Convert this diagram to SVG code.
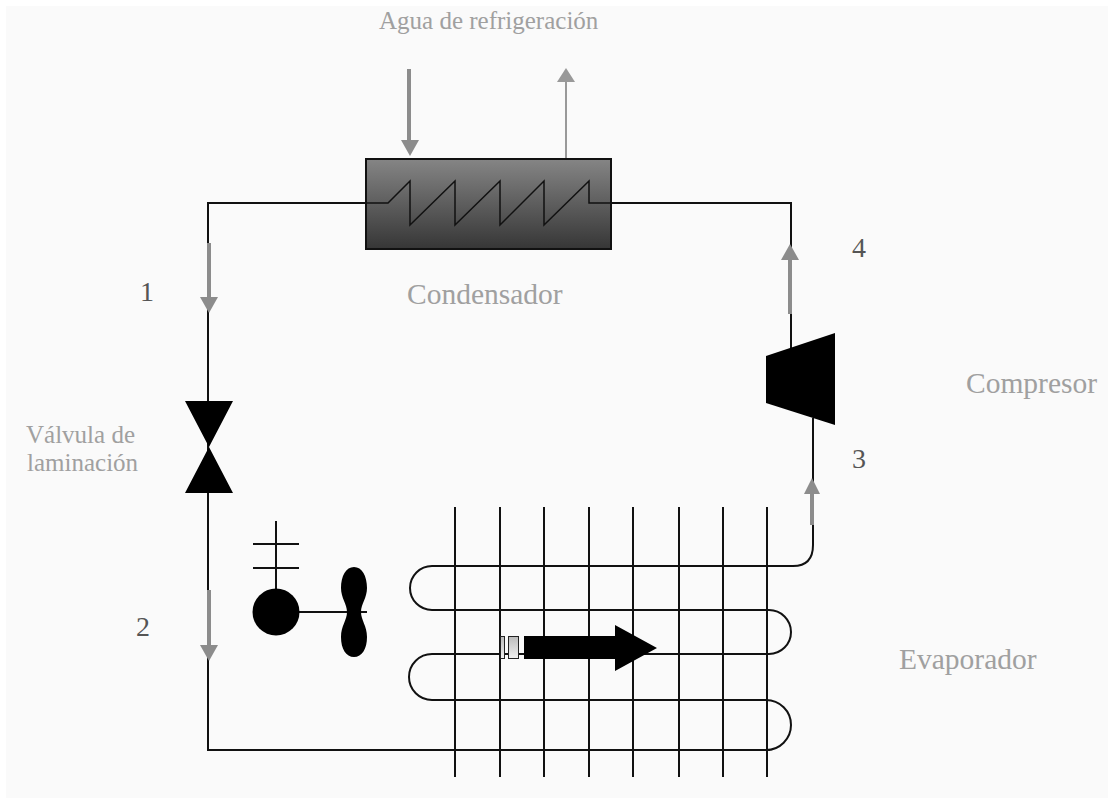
<svg xmlns="http://www.w3.org/2000/svg" width="1114" height="804" viewBox="0 0 1114 804">
<defs>
<linearGradient id="cond" x1="0" y1="0" x2="0" y2="1"><stop offset="0" stop-color="#858585"/><stop offset="1" stop-color="#363636"/></linearGradient>
<linearGradient id="sl" x1="0" y1="0" x2="0" y2="1"><stop offset="0" stop-color="#bbb"/><stop offset="1" stop-color="#f0f0f0"/></linearGradient>
</defs>
<style>
.l{fill:none;stroke:#111;stroke-width:2}
.g{fill:none;stroke:#8c8c8c;stroke-width:4}
.h{fill:#8c8c8c}
.k{fill:#000}
text{font-family:"Liberation Serif","Times New Roman",serif;fill:#a0a0a0;font-size:25px}
.b{font-size:29.500px}
.n{fill:#555;font-size:28px}
</style>
<rect width="1114" height="804" fill="#fff"/>
<rect x="6" y="6" width="1102" height="792" fill="#fafafa"/>
<g id="connectors">
<path class="l" d="M388 203H208V750H770"/>
<path class="l" d="M589 203H791V350"/>
<path class="l" d="M813 418V545Q813 566 793 566H432A22 22 0 0 0 432 610H769A22 22 0 0 1 769 654H432A23 23 0 0 0 432 700H766A25 25 0 0 1 766 750"/>
<path class="g" d="M209 243V300"/><path class="h" d="M200 297H218L209 313Z"/>
<path class="g" d="M209 590V648"/><path class="h" d="M200 645H218L209 661Z"/>
<path class="g" d="M790 314V258"/><path class="h" d="M781 260H799L790 244Z"/>
<path class="g" d="M812 525V492"/><path class="h" d="M804 494H820L812 478Z"/>
<path class="g" d="M409 69V143"/><path class="h" d="M401 140H419L410 156Z"/>
<path fill="none" stroke="#999" stroke-width="2" d="M566 159V80"/><path fill="#999" d="M557 82H575L566 68Z"/>
</g>
<g id="condensador">
<rect x="366" y="159" width="245" height="90" fill="url(#cond)" stroke="#111" stroke-width="2"/>
<path class="l" stroke-width="1.500" style="stroke-width:1.500px" d="M366 203H388L410 181V225L455 181V225L500 181V225L544 181V225L589 181V203H611"/>
</g>
<g id="compresor"><path class="k" d="M766 356L835 333V425L766 403Z"/></g>
<g id="valvula"><path class="k" d="M185 401H233L209 447L233 493H185L209 447Z"/></g>
<g id="evaporador">
<path class="l" d="M455 507V777M500 507V777M544 507V777M589 507V777M633 507V777M679 507V777M723 507V777M767 507V777"/>
</g>
<g id="ventilador">
<path class="l" d="M276 521V592M253 544H299M253 568H299M299 612H367"/>
<circle class="k" cx="276" cy="612" r="23.500"/>
<path class="k" d="M354 567C346 567 341 576 341 588C341 598 347 604 347 612C347 620 341 626 341 637C341 649 346 657 354 657C362 657 367 649 367 637C367 626 361 620 361 612C361 604 367 598 367 588C367 576 362 567 354 567Z"/>
</g>
<g id="flecha">
<rect x="500.500" y="636.500" width="4" height="22" fill="url(#sl)" stroke="#222"/>
<rect x="508.500" y="636.500" width="10" height="22" fill="url(#sl)" stroke="#222"/>
<path class="k" d="M524 636H615V625L657 648L615 671V659H524Z"/>
</g>
<g id="labels">
<text x="379" y="29">Agua de refrigeración</text>
<text class="b" x="407" y="304">Condensador</text>
<text class="b" x="966" y="393">Compresor</text>
<text x="26" y="443">Válvula de</text>
<text x="27" y="471">laminación</text>
<text class="b" x="899" y="669">Evaporador</text>
<text class="n" x="140" y="301">1</text>
<text class="n" x="136" y="636">2</text>
<text class="n" x="852" y="468">3</text>
<text class="n" x="852" y="257">4</text>
</g>
</svg>
